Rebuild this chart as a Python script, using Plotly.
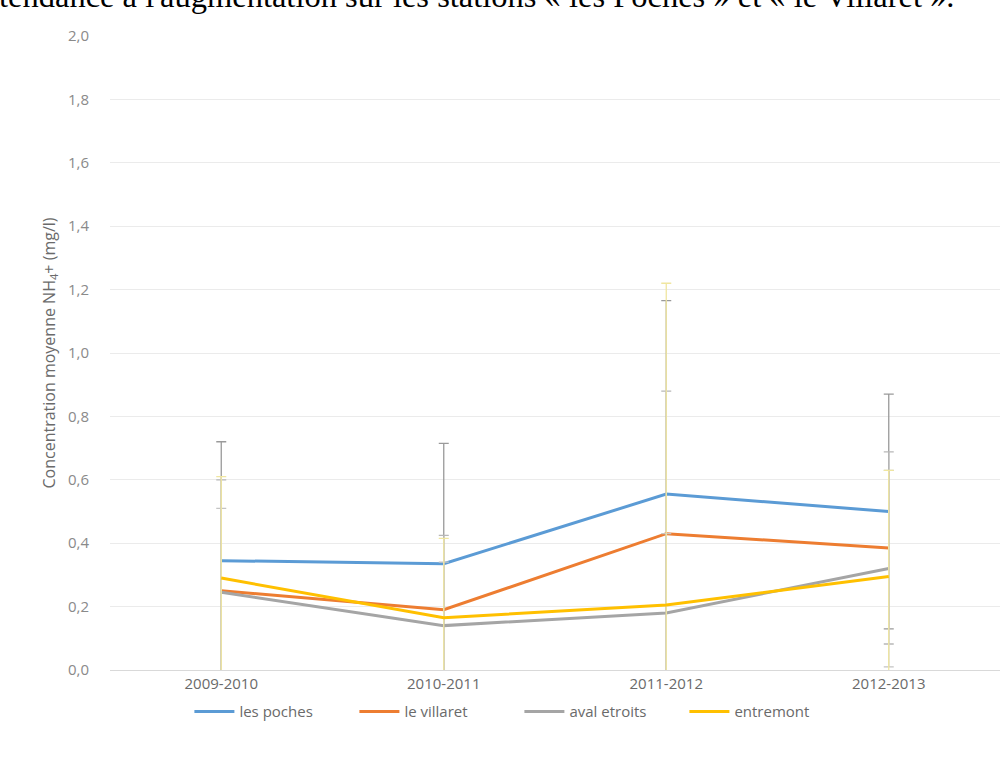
import plotly.graph_objects as go

categories = ["2009-2010", "2010-2011", "2011-2012", "2012-2013"]
series_names = ["les poches", "le villaret", "aval etroits", "entremont"]
les_poches = [0.345, 0.335, 0.555, 0.50]
le_villaret = [0.25, 0.19, 0.43, 0.385]
aval_etroits = [0.245, 0.14, 0.18, 0.32]
entremont = [0.29, 0.165, 0.205, 0.295]
err_les_poches = [0.375, 0.38, 0.61, 0.37]
err_le_villaret = [0.35, 0.235, 0.45, 0.303]
err_aval_etroits = [0.265, 0.20, 0.25, 0.31]
err_entremont = [0.32, 0.25, 1.015, 0.335]
y_ticks = [0.0, 0.2, 0.4, 0.6, 0.8, 1.0, 1.2, 1.4, 1.6, 1.8, 2.0]
y_tick_labels = ["0,0", "0,2", "0,4", "0,6", "0,8", "1,0", "1,2", "1,4", "1,6", "1,8", "2,0"]

colors = ["#5B9BD5", "#ED7D31", "#A5A5A5", "#FFC000"]
err_colors = ["#9A9A9A", "#B8B8B8", "#C4C4C4", "#F0E6A0"]

fig = go.Figure()
for name, vals, errs, c, ec in zip(
    series_names,
    [les_poches, le_villaret, aval_etroits, entremont],
    [err_les_poches, err_le_villaret, err_aval_etroits, err_entremont],
    colors, err_colors,
):
    fig.add_trace(go.Scatter(
        x=categories, y=vals, name=name, mode="lines",
        line=dict(color=c, width=3),
        error_y=dict(type="data", array=errs, symmetric=True,
                     color=ec, thickness=1.3, width=5),
    ))

fig.add_annotation(
    text="tendance à l'augmentation sur les stations « les Poches » et « le Villaret ».",
    xref="paper", yref="paper", x=-113/890, y=1 + (36 - 16) / 634,
    xanchor="left", yanchor="bottom", showarrow=False,
    font=dict(family="Liberation Serif", size=32.5, color="#000000"),
)

fig.update_layout(
    width=1006, height=758,
    margin=dict(l=110, r=6, t=36, b=88),
    paper_bgcolor="white", plot_bgcolor="white",
    font=dict(family="Open Sans", color="#6A6A6A", size=15),
    showlegend=True,
    legend=dict(orientation="h", x=0.46, xanchor="center", y=-0.04, yanchor="top",
                font=dict(size=15, color="#6A6A6A"), itemwidth=40,
                entrywidth=110, entrywidthmode="pixels"),
    xaxis=dict(showgrid=False, showline=True, linecolor="#D9D9D9", linewidth=1,
               range=[-0.5, 3.5], ticks="", automargin=False,
               tickfont=dict(size=15, color="#6A6A6A")),
    yaxis=dict(range=[0, 2], tickvals=y_ticks, ticktext=y_tick_labels,
               showgrid=True, gridcolor="#EBEBEB", gridwidth=1, zeroline=False,
               showline=False, ticks="", ticklabelstandoff=20, automargin=False,
               tickfont=dict(size=15, color="#8A8A8A"),
               title=dict(text="Concentration moyenne NH<sub>4</sub>+ (mg/l)",
                          font=dict(size=16, color="#6A6A6A"), standoff=8)),
)

fig.write_html("out.html", config={"displayModeBar": False},
               post_script="document.body.style.margin='0';")
